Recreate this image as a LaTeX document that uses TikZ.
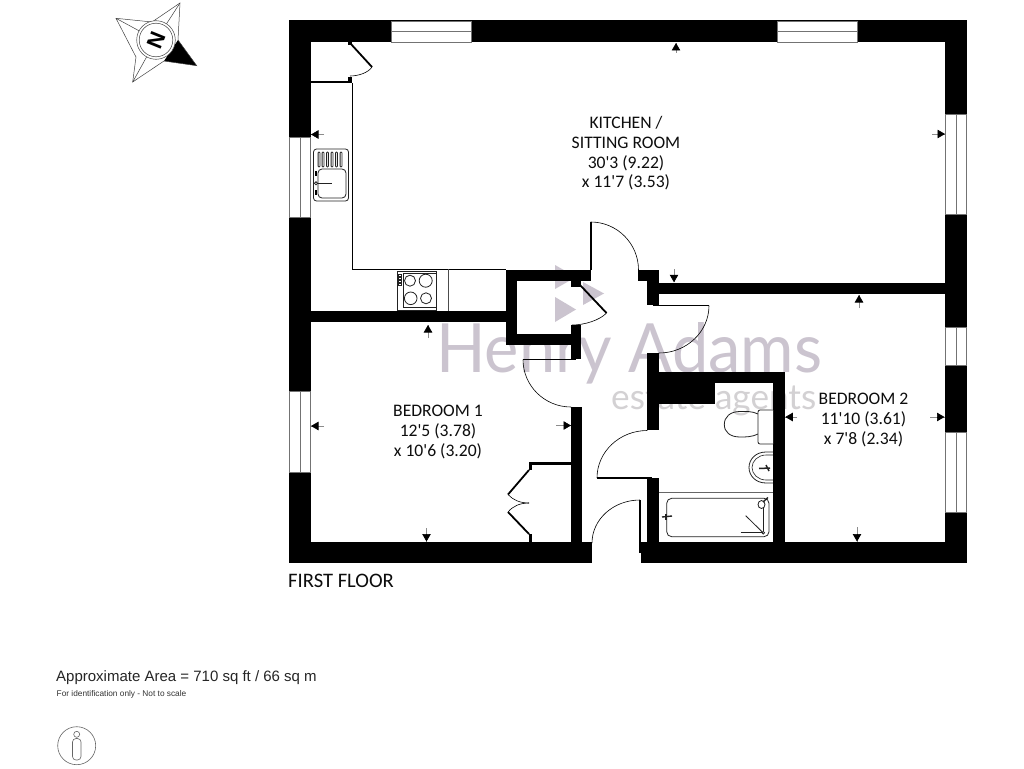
\documentclass[tikz,border=0pt]{standalone}
\usepackage{fontspec}
\usepackage{graphicx}
\usetikzlibrary{calc,arrows.meta}
\newfontfamily\planfont{Carlito}
\newfontfamily\footfont{Liberation Sans}
\newfontfamily\markfont{Lato}
\definecolor{wm}{HTML}{CBC4CF}
\definecolor{wmtwo}{HTML}{D3D1D3}
\definecolor{fix}{HTML}{222222}
\newcommand\wallbox[4]{\fill[black] (#1,#2) rectangle (#3,#4);}
\newcommand\winbox[4]{\draw[winline,fill=white] (#1,#2) rectangle (#3,#4);}
% quarter arc: from, outer corner, to
\newcommand\swing[3]{\draw[swingline] (#1) .. controls ($(#1)!.5523!(#2)$) and ($(#3)!.5523!(#2)$) .. (#3);}
\newcommand\dimarrow[2]{\draw[dimtail] (#1) -- (#2); \draw[dimhead] ($(#1)!.6!(#2)$) -- (#2);}
\tikzset{
  winline/.style={draw=black!55,line width=.8pt},
  swingline/.style={draw=black,line width=.6pt},
  leaf/.style={draw=black,line width=1.8pt},
  fixture/.style={draw=fix,line width=.8pt},
  dimtail/.style={draw=black!45,line width=.7pt},
  dimhead/.style={draw=black,line width=.7pt,-{Triangle[length=7.5pt,width=8.5pt,fill=black]}},
  roomlabel/.style={align=center,inner sep=0pt,text=black!95,font=\planfont\fontsize{17.6}{19.8}\selectfont},
}
\begin{document}
\begin{tikzpicture}[x=1pt,y=-1pt]
\useasboundingbox (0,0) rectangle (1024,768);
\fill[white] (0,0) rectangle (1024,768);

% watermark
\fill[wm] (555,265) -- (555,289) -- (576,277) -- cycle;
\fill[wm] (555,297) -- (555,322) -- (576,309.5) -- cycle;
\fill[wm] (583,282) -- (583,305) -- (604,293.5) -- cycle;
\node[anchor=base west,inner sep=0pt,text=wm] (wmname) at (436,372.7) {\resizebox{386pt}{50pt}{\markfont Henry Adams}};
\node[anchor=base west,inner sep=0pt,text=wmtwo] (wmsub) at (611,409) {\resizebox{205pt}{!}{\markfont estate agents}};

% outer walls
\wallbox{289}{20.5}{967}{42}
\wallbox{289}{20.5}{310.5}{563}
\wallbox{945}{20.5}{967}{563}
\wallbox{289}{542}{592}{563}
\wallbox{640.5}{542}{967}{563}

% windows
\winbox{391}{21}{471}{42}
\draw[winline] (391,31.5) -- (471,31.5);
\winbox{777}{21}{857}{42}
\draw[winline] (777,31.5) -- (857,31.5);
\winbox{289.5}{137}{310.5}{217}
\draw[winline] (300,137) -- (300,217);
\winbox{289.5}{391.5}{310.5}{472}
\draw[winline] (300,391.5) -- (300,472);
\winbox{945}{114}{966.5}{214}
\draw[winline] (956,114) -- (956,214);
\winbox{945}{327.5}{966.5}{365.5}
\draw[winline] (956,327.5) -- (956,365.5);
\winbox{945}{432.5}{966.5}{512}
\draw[winline] (956,432.5) -- (956,512);

% interior walls
\wallbox{310}{80.7}{352}{83.3}
\wallbox{348}{76.5}{352}{83}
\wallbox{348}{42}{352}{45}
\wallbox{310}{311}{506}{322}
\wallbox{506}{269.5}{517}{345}
\wallbox{506}{269.5}{590.7}{280.7}
\wallbox{571}{280}{580.7}{287}
\wallbox{506}{334}{581}{345}
\wallbox{571}{325}{581}{359}
\wallbox{571}{407}{581.5}{542}
\wallbox{638.3}{269.5}{659}{280.7}
\wallbox{647.3}{280}{659}{305}
\wallbox{659}{282.7}{945}{294.3}
\wallbox{647.3}{353}{659}{430}
\wallbox{659}{372.3}{785}{382.7}
\wallbox{659}{372.3}{715}{404}
\wallbox{773.3}{372.3}{785}{542}
\wallbox{647.3}{478}{659}{542}
\wallbox{529}{461.5}{571}{465}
\wallbox{529}{461.5}{532}{470}
\wallbox{529}{534}{532}{542}

% counter lines
\draw[line width=.9pt] (352.5,83) -- (352.5,269.3) -- (506,269.3);
\draw[line width=.7pt,draw=black!70] (448.5,269) -- (448.5,311);

% door leaves
\coordinate (d1a) at (350,43);   \coordinate (d1b) at (372,67);
\draw[leaf] (d1a) -- (d1b);
\draw[swingline] (d1b) .. controls (368,73) and (358,76) .. (350,76);
\coordinate (d2a) at (590.7,222); \coordinate (d2c) at (638.5,222); \coordinate (d2b) at (638.5,270);
\draw[leaf] (d2a) -- (590.7,270);
\swing{d2a}{d2c}{d2b}
\coordinate (d3a) at (580,285); \coordinate (d3b) at (606.5,313);
\draw[leaf] (d3a) -- (d3b);
\draw[swingline] (d3b) .. controls (600,320) and (585,325) .. (572,325);
\coordinate (d4a) at (709,305.5); \coordinate (d4c) at (709,353); \coordinate (d4b) at (659,353);
\draw[leaf] (653,305.5) -- (d4a);
\swing{d4a}{d4c}{d4b}
\coordinate (d5a) at (523,359.5); \coordinate (d5c) at (523,407); \coordinate (d5b) at (571,407);
\draw[leaf] (d5a) -- (576,359.5);
\swing{d5a}{d5c}{d5b}
\coordinate (d6a) at (597,478); \coordinate (d6c) at (597,430.5); \coordinate (d6b) at (647.3,430.5);
\draw[leaf] (d6a) -- (652,478);
\swing{d6a}{d6c}{d6b}
\coordinate (d7a) at (592,543); \coordinate (d7c) at (592,500); \coordinate (d7b) at (640,500);
\draw[leaf] (d7b) -- (640,553);
\swing{d7a}{d7c}{d7b}
% wardrobe doors
\draw[leaf] (529,470) -- (508,494.5);
\draw[leaf] (508,512) -- (529,534);
\draw[swingline] (508,494.5) .. controls (513,500) and (520,503) .. (529,503);
\draw[swingline] (508,512) .. controls (513,506) and (520,503) .. (529,503);

% sink
\draw[fixture,rounded corners=3pt] (313.5,149) rectangle (348.5,201);
\draw[fixture,rounded corners=4pt] (318,169) rectangle (346,198);
\foreach \x in {319,323,327.5,332,336.5,341}
  \draw[fixture,fill=white,rounded corners=.8pt] (\x-.9,152) rectangle (\x+.9,167);
\draw[fixture,line width=1.2pt] (316,183.3) -- (331.5,183.3);
\draw[fixture,fill=white] (316,183.3) circle (1.6);
\draw[line width=1.4pt] (316,171) -- (316,176);
\draw[line width=1.4pt] (316,190) -- (316,195);

% hob
\draw[fixture] (397.3,271.7) rectangle (436.7,310);
\draw[fixture] (403,273) rectangle (436,307.7);
\draw[fixture] (410,280.7) circle (5.5);
\draw[fixture] (425.7,280.7) circle (6.5);
\draw[fixture] (410.7,298.3) circle (6.3);
\draw[fixture] (426,298.3) circle (5.5);
\foreach \y in {274,277,280,283}
  \draw[fixture,line width=.5pt] (398.5,\y) rectangle (401.5,\y+2);

% toilet
\draw[fixture] (758,414) .. controls (752,411) and (746,411.5) .. (740,411.5) .. controls (730,411.5) and (724.3,417) .. (724.3,424.5) .. controls (724.3,432) and (730,437) .. (740,437) .. controls (746,437) and (752,437) .. (758,434);
\draw[fixture,fill=white,rounded corners=2pt] (773,410) -- (758,410) -- (758,444) -- (773,444);
% basin
\draw[fixture] (773,452) -- (766,452) .. controls (756,452) and (749,459) .. (749,467.5) .. controls (749,476) and (756,483) .. (766,483) -- (773,483);
\draw[fixture,line width=.6pt] (773,455) -- (766,455) .. controls (758,455) and (752,461) .. (752,467.5) .. controls (752,474) and (758,480) .. (766,480) -- (773,480);
\draw[fixture,line width=1.5pt] (759,468.5) -- (770,468);
\draw[fixture,line width=1.5pt] (766,465) -- (769,471);

% bath
\draw[fixture,draw=black!60] (659,492.7) -- (773.3,492.7);
\draw[fixture,rounded corners=5pt] (666.7,498.3) rectangle (769,536.7);
\draw[fixture,line width=1.4pt] (662,517) -- (672,516);
\draw[fixture,line width=1.4pt] (666,514) -- (666,520);
\draw[fixture,fill=white] (761.5,504.5) ellipse (3.5 and 4);
\draw[fixture,line width=1.4pt] (763,502) -- (768,497.5);
\draw[fixture] (763.3,508) -- (763.3,531);
\draw[fixture] (745.7,515.7) -- (762.3,532);
\draw[fixture] (740.7,532.7) -- (761.5,532.7);
\draw[fixture,fill=white] (763.3,532.7) circle (1.3);

% dimension arrows
\dimarrow{676,53}{676,43}
\dimarrow{324,134.5}{311,134.5}
\dimarrow{932,134}{945,134}
\dimarrow{674,269}{674,282.3}
\dimarrow{428,338}{428,325}
\dimarrow{324,426}{311,426}
\dimarrow{556,425.5}{571,425.5}
\dimarrow{426.5,528}{426.5,541.5}
\dimarrow{859,308}{859,295}
\dimarrow{797,417}{785.3,417}
\dimarrow{930,417}{944.5,417}
\dimarrow{857,527}{857,541.5}

% room labels
\node[roomlabel] (kitchen) at (626,153.3) {KITCHEN /\\SITTING ROOM\\30'3 (9.22)\\x 11'7 (3.53)};
\node[roomlabel] (bed1) at (438,432) {BEDROOM 1\\12'5 (3.78)\\x 10'6 (3.20)};
\node[roomlabel] (bed2) at (863.5,420) {BEDROOM 2\\11'10 (3.61)\\x 7'8 (2.34)};
\node[anchor=base west,inner sep=0pt,text=black!95,font=\planfont\fontsize{20.6}{22}\selectfont] (floor) at (288,587.5) {FIRST FLOOR};

% compass
\coordinate (cc) at (156,40);
\coordinate (tnw) at (116,18.3); \coordinate (tne) at (180,3);
\coordinate (tse) at (196.7,65.7); \coordinate (tsw) at (132.7,82);
\coordinate (wt) at (152,22); \coordinate (wr) at (178,40);
\coordinate (wb) at (164,61); \coordinate (wl) at (136,57);
\fill[black] (tse) -- (wr) -- (wb) -- cycle;
\draw[line width=.5pt,draw=black!75] (tnw) -- (wt) -- (tne) -- (wr) -- (tse) -- (wb) -- (tsw) -- (wl) -- cycle;
\draw[line width=.5pt,draw=black!75] (tnw) -- (cc) (tne) -- (cc) (tsw) -- (cc);
\draw[line width=.5pt,draw=black!75,fill=white] (cc) circle (19.3);
\draw[line width=.5pt,draw=black!75] (cc) circle (16.8);
\node[inner sep=0pt,rotate=68,font=\footfont\bfseries\fontsize{22}{22}\selectfont] (north) at (cc) {N};

% footer
\node[anchor=base west,inner sep=0pt,text=black!85,font=\footfont\fontsize{15}{17}\selectfont] (area) at (56,681.3) {Approximate Area = 710 sq ft / 66 sq m};
\node[anchor=base west,inner sep=0pt,text=black!80,font=\footfont\fontsize{8.3}{9}\selectfont] (note) at (56.5,696.8) {For identification only - Not to scale};

% person icon
\draw[line width=.6pt,draw=black!60] (76.7,745.7) circle (19);
\draw[line width=.6pt,draw=black!60] (76.7,734.3) circle (3);
\draw[line width=.6pt,draw=black!60,rounded corners=3.5pt] (72.5,738.5) rectangle (81,760);
\end{tikzpicture}
\end{document}
